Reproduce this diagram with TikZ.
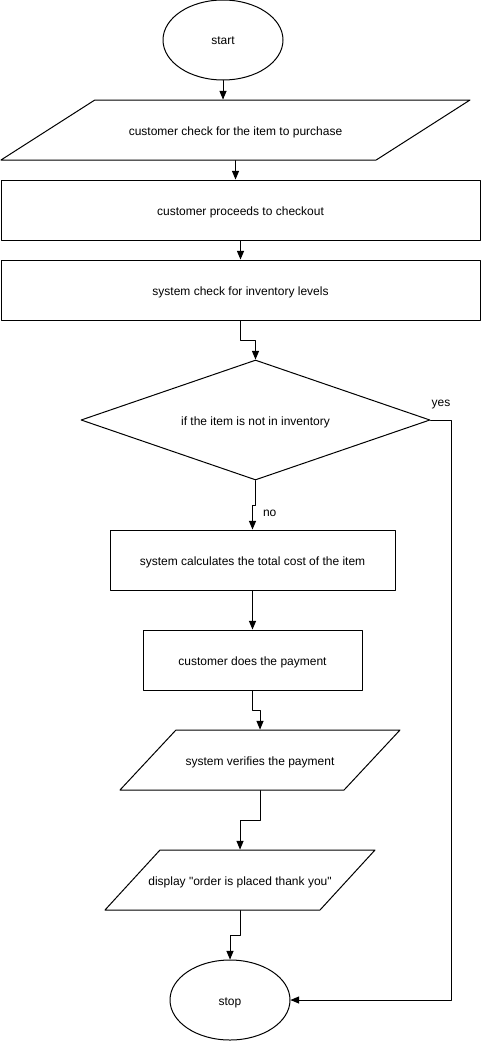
\documentclass[tikz,border=0pt]{standalone}
\usepackage{fontspec}
\setmainfont{Liberation Sans}
\usepackage{tikz}
\usetikzlibrary{arrows,shapes.geometric}

\begin{document}
\begin{tikzpicture}[line cap=round,line join=round,>=triangle 45,x=1.0pt,y=-1.0pt,line width=1pt,
		font=\fontsize{12pt}{14pt}\selectfont,
		every node/.style={text height=10.5pt,text depth=0.5pt},
		terminal/.style={draw,ellipse,minimum width=120pt,minimum height=80pt,inner sep=0pt},
		process/.style={draw,rectangle,minimum height=60pt,inner sep=0pt},
		io/.style={draw,trapezium,trapezium stretches body,inner xsep=0pt,inner ysep=24.5pt},
		decision/.style={draw,diamond,aspect=2.9,minimum width=349pt,minimum height=120pt,inner sep=0pt}]
		\useasboundingbox (0,0) rectangle (481,1041);
		% shapes
		\node[terminal] (start) at (223,40) {start};
		\node[io,minimum width=469pt,trapezium left angle=32.6,trapezium right angle=147.4] (browse) at (235.5,130) {customer check for the item to purchase};
		\node[process,minimum width=479pt] (checkout) at (240.5,210) {customer proceeds to checkout};
		\node[process,minimum width=479pt] (inventory) at (240.5,290) {system check for inventory levels};
		\node[decision] (instock) at (255.5,420) {if the item is not in inventory};
		\node[process,minimum width=285pt] (total) at (252.5,560) {system calculates the total cost of the item};
		\node[process,minimum width=219pt] (payment) at (252.5,660) {customer does the payment};
		\node[io,minimum width=280pt,trapezium left angle=47,trapezium right angle=133] (verify) at (260,760) {system verifies the payment};
		\node[io,inner xsep=-13pt,minimum width=270pt,trapezium left angle=47.5,trapezium right angle=132.5] (display) at (240,880) {display \textquotedbl order is placed thank you\textquotedbl};
		\node[terminal] (stop) at (230,1000) {stop};
		% connectors
		\draw [->] (start.south) -- (start.south |- browse.north);
		\draw [->] (browse.south) -- (browse.south |- checkout.north);
		\draw [->] (checkout.south) -- (inventory.north);
		\draw [->] (inventory.south) -- ++(0,20) -| (instock.north);
		\draw [->] (instock.east) -- node[above=9pt] (yes) {yes} ++(21,0) |- (stop.east);
		\draw [->] (instock.south) -- ++(0,25) -| node[pos=0.62,right=6.7pt] (no) {no} (total.north);
		\draw [->] (total.south) -- (payment.north);
		\draw [->] (payment.south) -- ++(0,20) -| (verify.north);
		\draw [->] (verify.south) -- ++(0,30) -| (display.north);
		\draw [->] (display.south) -- ++(0,25) -| (stop.north);
\end{tikzpicture}
\end{document}
